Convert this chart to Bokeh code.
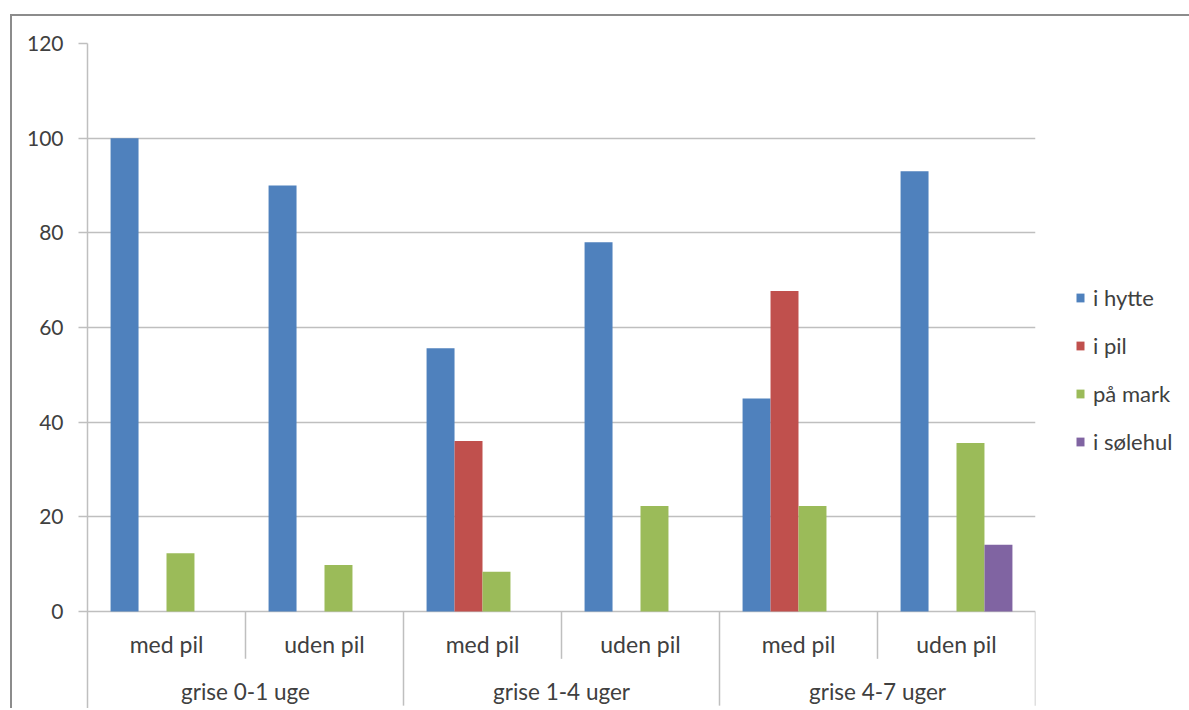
from bokeh.plotting import figure
from bokeh.models import FactorRange, Range1d, FixedTicker, Legend, LegendItem
from bokeh.transform import dodge
from bokeh.core.properties import value
from bokeh.embed import file_html
from bokeh.resources import INLINE

# ---- data ----
groups = ["grise 0-1 uge", "grise 1-4 uger", "grise 4-7 uger"]
subgroups = ["med pil", "uden pil"]
series_names = ["i hytte", "i pil", "på mark", "i sølehul"]
i_hytte = [100, 90, 55.6, 78, 45, 93]
i_pil = [0, 0, 36, 0, 67.7, 0]
paa_mark = [12.3, 9.8, 8.4, 22.3, 22.3, 35.6]
i_soelehul = [0, 0, 0, 0, 0, 14.1]
y_ticks = [0, 20, 40, 60, 80, 100, 120]
colors = ["#4F81BD", "#C0504D", "#9BBB59", "#8064A2"]

FONT = "Lato"
TXT = "#404040"
GRID = "#BFBFBF"

factors = [(g, s) for g in groups for s in subgroups]

FW, FH = 948, 665
ML, MT, MR = 75, 27, 153
px_per_unit = 568 / 120.0
y_bottom = 120 - FH / px_per_unit

p = figure(
    x_range=FactorRange(*factors, factor_padding=0, group_padding=0, range_padding=0),
    y_range=Range1d(y_bottom, 120),
    frame_width=FW, frame_height=FH,
    output_backend="svg", toolbar_location=None,
    x_axis_location=None,
    min_border_left=ML, min_border_top=MT, min_border_right=MR, min_border_bottom=0,
)
p.styles = {"border-top": "2px solid #8c8c8c", "border-left": "2px solid #8c8c8c",
            "margin-top": "14px", "margin-left": "10px"}
p.outline_line_color = None
p.background_fill_color = "white"
p.border_fill_color = "white"

# grid / axis
p.xgrid.visible = False
p.ygrid.ticker = FixedTicker(ticks=y_ticks)
p.ygrid.grid_line_color = GRID
p.ygrid.grid_line_width = 1.5
p.yaxis.ticker = FixedTicker(ticks=y_ticks)
p.yaxis.axis_line_color = GRID
p.yaxis.axis_line_width = 1.5
p.yaxis.major_tick_line_color = GRID
p.yaxis.major_tick_line_width = 1.5
p.yaxis.major_tick_out = 9
p.yaxis.major_tick_in = 0
p.yaxis.minor_tick_line_color = None
p.yaxis.major_label_standoff = 15
p.yaxis.major_label_text_font = FONT
p.yaxis.major_label_text_font_size = "21px"
p.yaxis.major_label_text_color = TXT

# bars
source = dict(x=factors, i_hytte=i_hytte, i_pil=i_pil, paa_mark=paa_mark, i_soelehul=i_soelehul)
keys = ["i_hytte", "i_pil", "paa_mark", "i_soelehul"]
bw = 0.177
offsets = [-1.5 * bw, -0.5 * bw, 0.5 * bw, 1.5 * bw]
renderers = []
for k, off, c in zip(keys, offsets, colors):
    r = p.vbar(x=dodge("x", off, range=p.x_range), top=k, width=bw, source=source,
               fill_color=c, line_color=None)
    renderers.append(r)

# category table separators
inner_x = [gi * len(subgroups) + 1 for gi in range(len(groups))]
group_x = [(gi + 1) * len(subgroups) for gi in range(len(groups))]
p.segment(x0=inner_x, y0=0, x1=inner_x, y1=-10, line_color=GRID, line_width=1.5)
p.segment(x0=group_x, y0=0, x1=group_x, y1=y_bottom + 0.6, line_color=GRID, line_width=1.5)

# category labels
p.text(x=factors, y=[-6.8] * len(factors), text=[s for g, s in factors],
       text_align="center", text_baseline="middle", text_font=value(FONT),
       text_font_size="23px", text_color=TXT)
p.text(x=groups, y=[-16.9] * len(groups), text=groups,
       text_align="center", text_baseline="middle", text_font=value(FONT),
       text_font_size="22.5px", text_color=TXT)

# legend in the right side panel
legend = Legend(
    items=[LegendItem(label=n, renderers=[r]) for n, r in zip(series_names, renderers)],
    location=(40, 253), orientation="vertical",
    border_line_color=None, background_fill_alpha=0,
    label_text_font=FONT, label_text_font_size="22px", label_text_color=TXT,
    glyph_width=10, glyph_height=11, label_standoff=8, spacing=21,
    margin=0, padding=0,
)
p.add_layout(legend, "right")

open("out.html", "w").write(file_html(p, INLINE))
